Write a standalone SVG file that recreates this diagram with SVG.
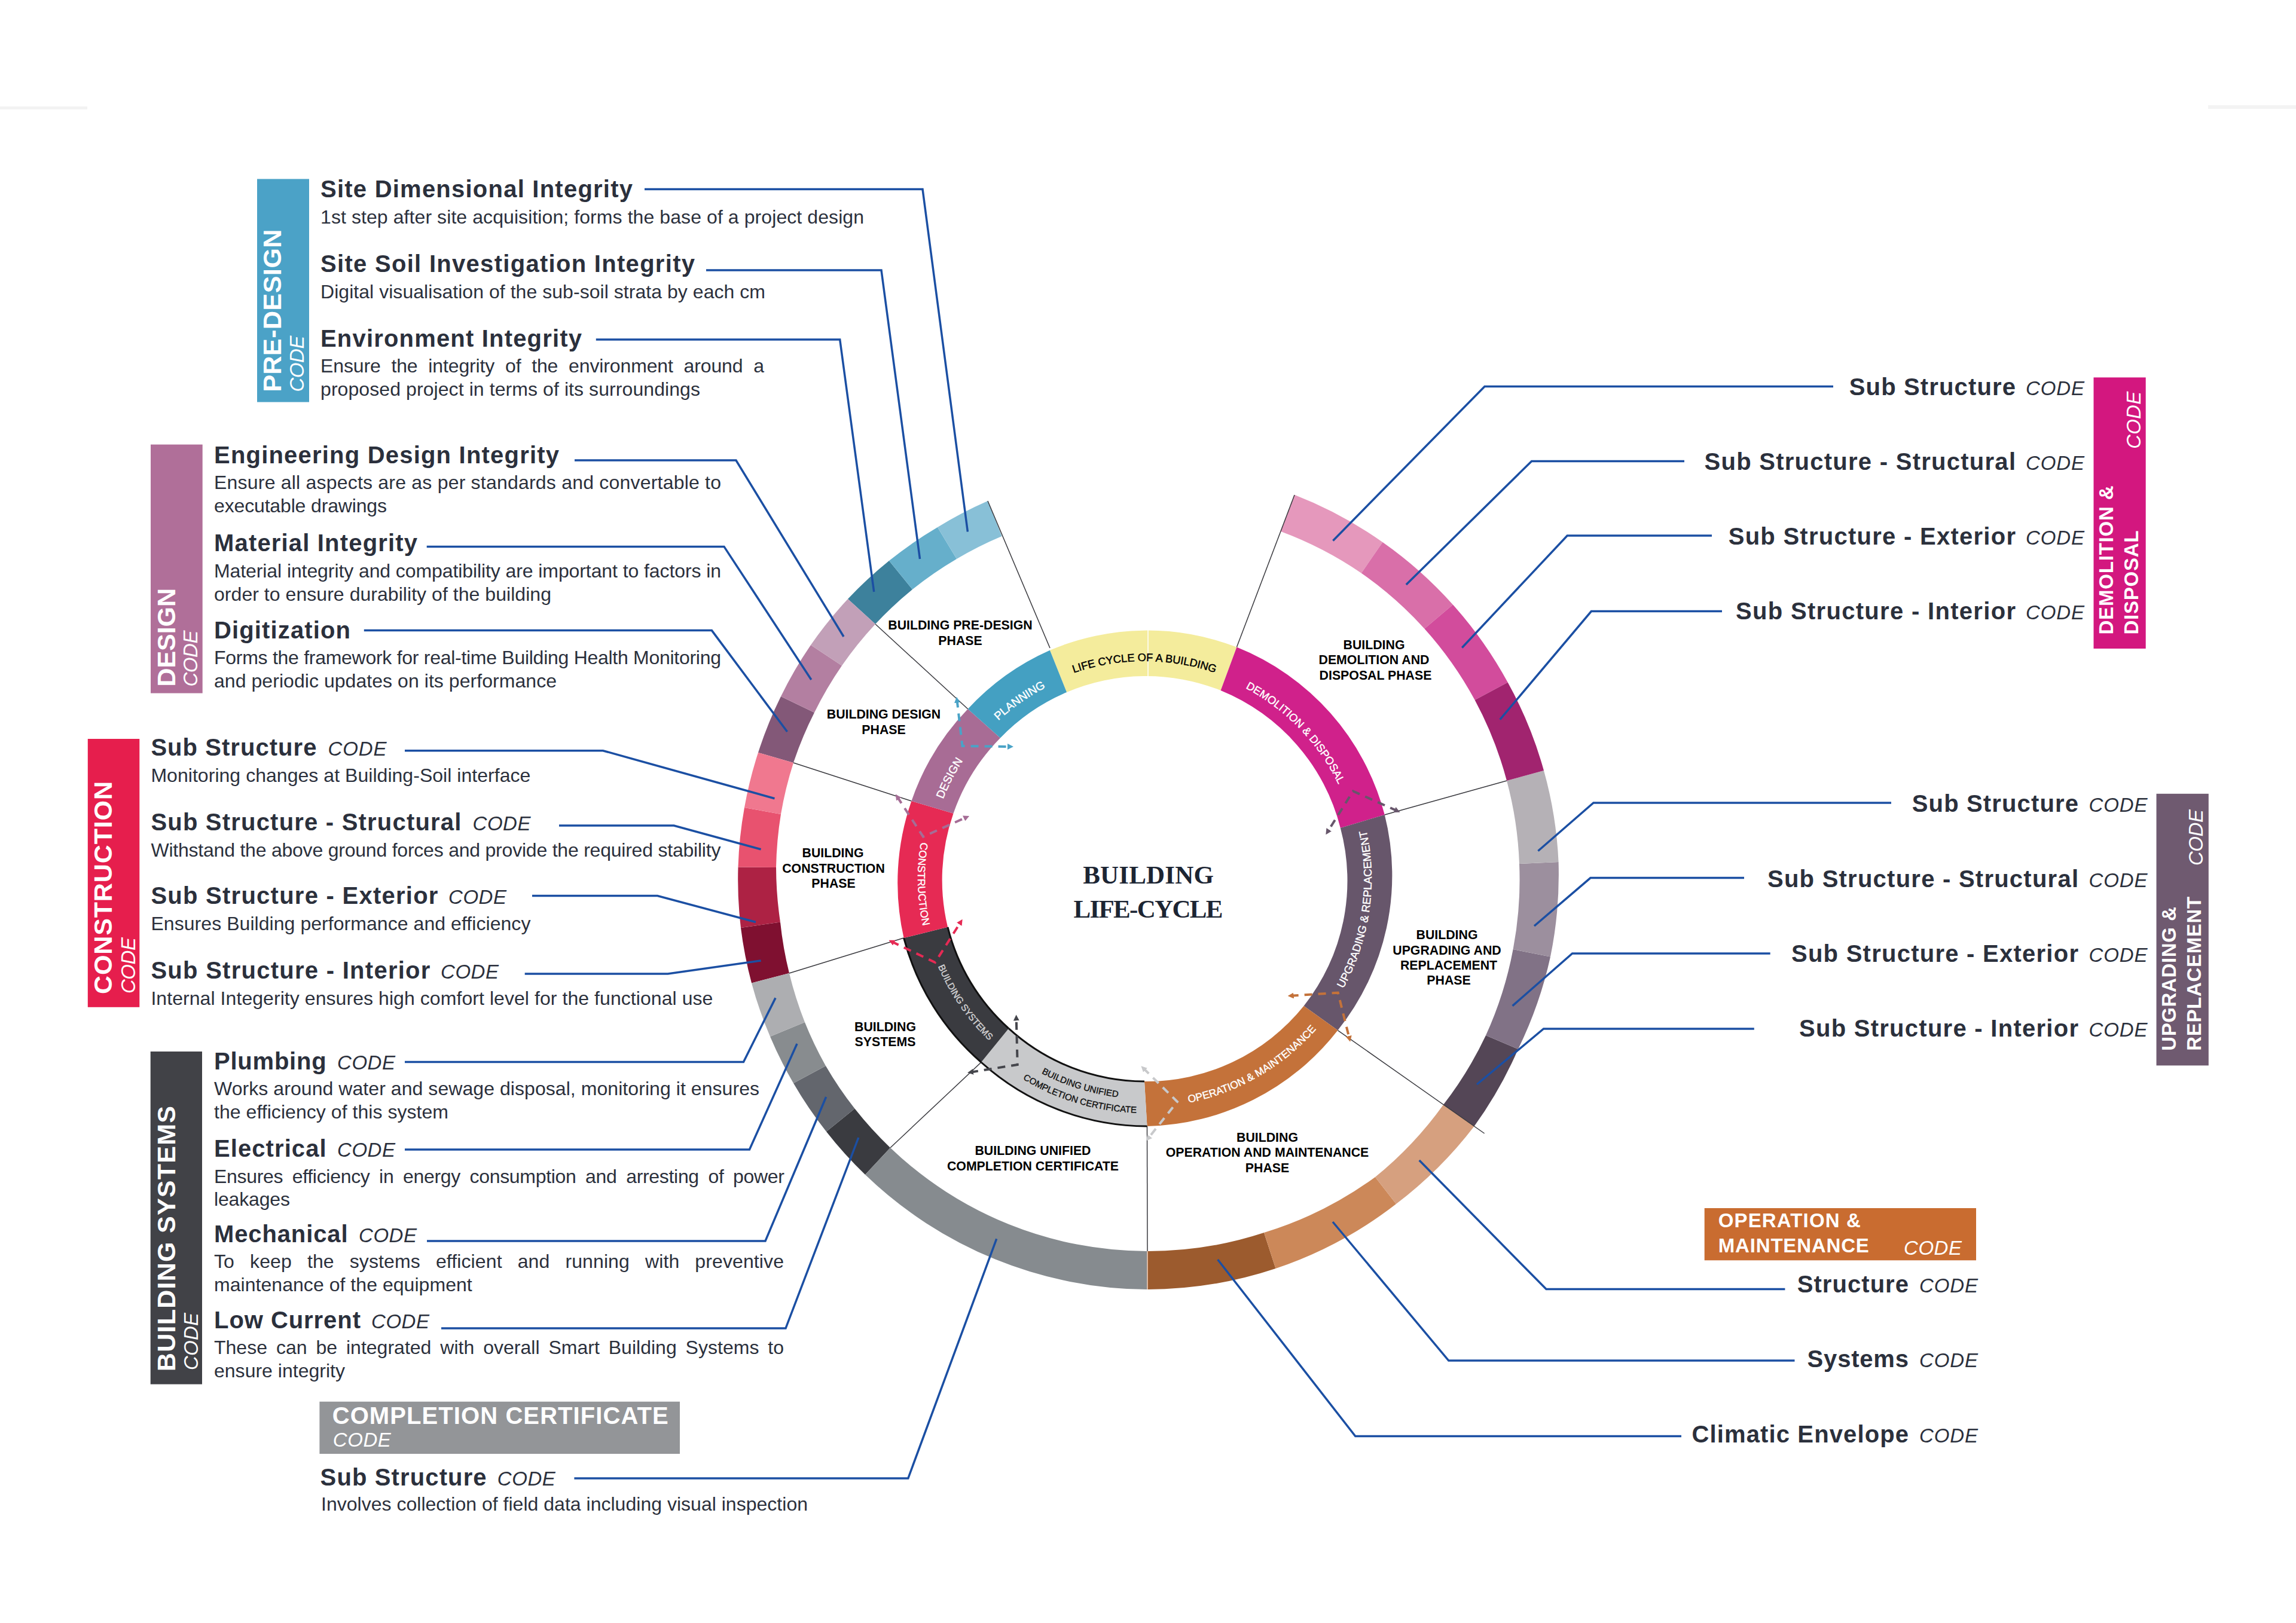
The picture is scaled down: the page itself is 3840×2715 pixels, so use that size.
<svg xmlns="http://www.w3.org/2000/svg" xmlns:xlink="http://www.w3.org/1999/xlink" width="3840" height="2715" viewBox="0 0 3840 2715">
<style>
text{font-family:"Liberation Sans",Arial,sans-serif}
.t{font-size:40px;font-weight:700;fill:#2b303c}
.c{font-size:33px;font-style:italic;fill:#2b303c}
.d{font-size:32px;fill:#2b303c}
.lb{font-size:43px;font-weight:700;fill:#fff}
.ls{font-size:33px;font-weight:700;fill:#fff}
.lc{font-size:33px;font-style:italic;fill:#fff}
.ph{font-size:21.3px;font-weight:700;fill:#000;text-anchor:middle}
.rt{font-size:19px;fill:#fff;stroke:#fff;stroke-width:.4;text-anchor:middle}
.blue{fill:none;stroke:#1b4fa3;stroke-width:3.5}
.sep{fill:none;stroke:#3a3a3f;stroke-width:1.5}
.edge{fill:none;stroke:#111;stroke-width:3}
.dash{fill:none;stroke-width:4;stroke-dasharray:13 10}
.title{font-family:"Liberation Serif","Times New Roman",serif;font-size:43px;font-weight:700;fill:#1c2533;text-anchor:middle}
</style>
<defs>
<marker id="mBlue" viewBox="0 0 10 10" refX="5" refY="5" markerWidth="10" markerHeight="10" markerUnits="userSpaceOnUse" orient="auto-start-reverse"><path d="M0 0L10 5L0 10Z" fill="#4aa3c7"/></marker>
<marker id="mPurple" viewBox="0 0 10 10" refX="5" refY="5" markerWidth="10" markerHeight="10" markerUnits="userSpaceOnUse" orient="auto-start-reverse"><path d="M0 0L10 5L0 10Z" fill="#a56d96"/></marker>
<marker id="mRed" viewBox="0 0 10 10" refX="5" refY="5" markerWidth="10" markerHeight="10" markerUnits="userSpaceOnUse" orient="auto-start-reverse"><path d="M0 0L10 5L0 10Z" fill="#e62a54"/></marker>
<marker id="mDark" viewBox="0 0 10 10" refX="5" refY="5" markerWidth="10" markerHeight="10" markerUnits="userSpaceOnUse" orient="auto-start-reverse"><path d="M0 0L10 5L0 10Z" fill="#45464c"/></marker>
<marker id="mLight" viewBox="0 0 10 10" refX="5" refY="5" markerWidth="10" markerHeight="10" markerUnits="userSpaceOnUse" orient="auto-start-reverse"><path d="M0 0L10 5L0 10Z" fill="#c8c9cb"/></marker>
<marker id="mOrange" viewBox="0 0 10 10" refX="5" refY="5" markerWidth="10" markerHeight="10" markerUnits="userSpaceOnUse" orient="auto-start-reverse"><path d="M0 0L10 5L0 10Z" fill="#c4723a"/></marker>
<marker id="mGray" viewBox="0 0 10 10" refX="5" refY="5" markerWidth="10" markerHeight="10" markerUnits="userSpaceOnUse" orient="auto-start-reverse"><path d="M0 0L10 5L0 10Z" fill="#67566b"/></marker>
<path id="pYellow" d="M1656.6 1212.6A364 364 0 0 1 2171.4 1212.6"/>
<path id="pPlan" d="M1559.5 1407.5A360 360 0 0 1 1976.5 1115.5"/>
<path id="pDes" d="M1569.1 1580A362 362 0 0 1 1804 1125.1"/>
<path id="pCon" d="M1638.7 1210.7A376 376 0 0 0 1651.7 1742.3"/>
<path id="pSys" d="M1545.1 1402.3A375 375 0 0 0 1846.3 1838.9"/>
<path id="pCom1" d="M1587.9 1640.5A368 368 0 0 0 2084.5 1796.1"/>
<path id="pCom2" d="M1569.2 1656.4A392 392 0 0 0 2100.4 1814.8"/>
<path id="pOp" d="M1815.1 1839A382 382 0 0 0 2283 1568.9"/>
<path id="pUpg" d="M2141.1 1774.7A380 380 0 0 0 2218.7 1242.9"/>
<path id="pDem" d="M1920.3 1109.1A361 361 0 0 1 2274.9 1476.3"/>
</defs>
<rect width="3840" height="2715" fill="#fff"/>
<g id="page-marks" fill="#f3f3f3"><rect x="0" y="178" width="146" height="5"/><rect x="3693" y="176" width="147" height="6"/></g>

<g id="outer-ring">
<g id="outer-predesign">
<path fill="#3d819c" d="M1418 1002A685 685 0 0 1 1487 938L1526 986A622 622 0 0 0 1464 1044Z"/>
<path fill="#66afcb" d="M1487 938A685 685 0 0 1 1568 882L1600 935A622 622 0 0 0 1526 986Z"/>
<path fill="#88c0d7" d="M1568 882A685 685 0 0 1 1652 838L1675.5 897A622 622 0 0 0 1600 935Z"/>
</g>
<g id="outer-design">
<path fill="#835878" d="M1268 1259A685 685 0 0 1 1306 1165L1362 1192A622 622 0 0 0 1327 1276Z"/>
<path fill="#b37fa1" d="M1306 1165A685 685 0 0 1 1356 1079L1408 1113.5A622 622 0 0 0 1362 1192Z"/>
<path fill="#c2a0b8" d="M1356 1079A685 685 0 0 1 1418 1002L1464 1044A622 622 0 0 0 1408 1113.5Z"/>
</g>
<g id="outer-construction">
<path fill="#7f1030" d="M1257 1644.4A685 685 0 0 1 1239 1552L1305 1542.5A622 622 0 0 0 1320 1628Z"/>
<path fill="#ad2244" d="M1239 1552A685 685 0 0 1 1234.5 1450.5L1298 1451A622 622 0 0 0 1305 1542.5Z"/>
<path fill="#e8526f" d="M1234.5 1450.5A685 685 0 0 1 1245 1351L1306 1362A622 622 0 0 0 1298 1451Z"/>
<path fill="#f0788f" d="M1245 1351A685 685 0 0 1 1268 1259L1327 1276A622 622 0 0 0 1306 1362Z"/>
</g>
<g id="outer-systems">
<path fill="#3a3b40" d="M1447 1965A685 685 0 0 1 1382 1893L1429.5 1854.6A622 622 0 0 0 1489 1920Z"/>
<path fill="#63666d" d="M1382 1893A685 685 0 0 1 1327 1812L1381 1783A622 622 0 0 0 1429.5 1854.6Z"/>
<path fill="#888c8f" d="M1327 1812A685 685 0 0 1 1288 1734L1346 1710A622 622 0 0 0 1381 1783Z"/>
<path fill="#adaeb1" d="M1288 1734A685 685 0 0 1 1257 1644.4L1320 1628A622 622 0 0 0 1346 1710Z"/>
</g>
<g id="outer-completion">
<path fill="#868b8f" d="M1919 2157A685 685 0 0 1 1447 1965L1489 1920A622 622 0 0 0 1919 2093Z"/>
</g>
<g id="outer-operation">
<path fill="#9c5b2e" d="M2133.5 2122A685 685 0 0 1 1919 2157L1919 2093A622 622 0 0 0 2114 2062Z"/>
<path fill="#cc8859" d="M2335 2014A685 685 0 0 1 2133.5 2122L2114 2062A622 622 0 0 0 2300 1969Z"/>
<path fill="#d6a07f" d="M2465.6 1884A685 685 0 0 1 2335 2014L2300 1969A622 622 0 0 0 2414 1848Z"/>
</g>
<g id="outer-upgrading">
<path fill="#544656" d="M2539 1755A685 685 0 0 1 2465.6 1884L2414 1848A622 622 0 0 0 2485 1732Z"/>
<path fill="#817286" d="M2593 1600.5A685 685 0 0 1 2539 1755L2485 1732A622 622 0 0 0 2530.6 1588Z"/>
<path fill="#9c8f9e" d="M2606.6 1442A685 685 0 0 1 2593 1600.5L2530.6 1588A622 622 0 0 0 2541 1445Z"/>
<path fill="#b5b1b6" d="M2582 1289A685 685 0 0 1 2606.6 1442L2541 1445A622 622 0 0 0 2520 1306Z"/>
</g>
<g id="outer-demolition">
<path fill="#e598bc" d="M2165 827.8A685 685 0 0 1 2312.4 907L2276.8 958.7A622 622 0 0 0 2142 889Z"/>
<path fill="#d96fa9" d="M2312.4 907A685 685 0 0 1 2429.9 1011.5L2382.4 1051.7A622 622 0 0 0 2276.8 958.7Z"/>
<path fill="#d24c9c" d="M2429.9 1011.5A685 685 0 0 1 2521.7 1141.6L2466.6 1171A622 622 0 0 0 2382.4 1051.7Z"/>
<path fill="#a1246f" d="M2521.7 1141.6A685 685 0 0 1 2582 1289L2520 1306A622 622 0 0 0 2466.6 1171Z"/>
</g>
</g>

<g id="separators">
<path class="sep" d="M1756 1084L1652 838"/>
<path class="sep" d="M2068.4 1082.6L2165 828"/>
<path class="sep" d="M1618.7 1186L1464 1044"/>
<path class="sep" d="M1524.4 1340L1327 1276"/>
<path class="sep" d="M1511.6 1569L1320 1628"/>
<path class="sep" d="M1641 1777L1489 1920"/>
<path class="sep" d="M1918.5 1884L1919 2093"/>
<path d="M1919 2093V2157" fill="none" stroke="#f2d0bb" stroke-width="1.5"/>
<path class="sep" d="M2237.4 1723.6L2482.6 1896"/>
<path class="sep" d="M2315.8 1363L2520 1306"/>
</g>

<g id="segment-yellow"><path fill="#f4ec9c" d="M1755.9 1087.8A415 415 0 0 1 2068.4 1082.6L2041.6 1155A338 338 0 0 0 1784 1158Z"/><path d="M1920 1054V1133" stroke="#fff" stroke-width="1.5"/><text class="rt" style="font-size:18.2px;fill:#000;stroke:#000;stroke-width:.5"><textPath href="#pYellow" startOffset="50%">LIFE CYCLE OF A BUILDING</textPath></text></g>
<g id="segment-demolition"><path fill="#d0218b" d="M2068.4 1082.6A415 415 0 0 1 2315.8 1363L2241.8 1385A338 338 0 0 0 2041.6 1155Z"/><text class="rt" style="font-size:18.3px"><textPath href="#pDem" startOffset="50%">DEMOLITION &amp; DISPOSAL</textPath></text></g>
<g id="segment-upgrading"><path fill="#67566b" d="M2315.8 1363A415 415 0 0 1 2237.4 1723.6L2180.6 1682.8A338 338 0 0 0 2241.8 1385Z"/><text class="rt" style="font-size:18.5px"><textPath href="#pUpg" startOffset="50%">UPGRADING &amp; REPLACEMENT</textPath></text></g>
<g id="segment-operation"><path fill="#c4723a" d="M2237.4 1723.6A415 415 0 0 1 1918.5 1884L1914 1809A338 338 0 0 0 2180.6 1682.8Z"/><text class="rt" style="font-size:17.5px"><textPath href="#pOp" startOffset="50%">OPERATION &amp; MAINTENANCE</textPath></text></g>
<g id="segment-completion"><path fill="#c8c9cb" d="M1918.5 1884A415 415 0 0 1 1641 1777L1687 1720.4A338 338 0 0 0 1914 1809Z"/><path class="edge" d="M1918.5 1884A415 415 0 0 1 1641 1777"/><path class="edge" d="M1914 1809A338 338 0 0 1 1687 1720.4"/><text class="rt" style="font-size:15px;fill:#111;stroke:#111"><textPath href="#pCom1" startOffset="50%">BUILDING UNIFIED</textPath></text><text class="rt" style="font-size:15px;fill:#111;stroke:#111"><textPath href="#pCom2" startOffset="50%">COMPLETION CERTIFICATE</textPath></text></g>
<g id="segment-systems"><path fill="#3a3b40" d="M1641 1777A415 415 0 0 1 1511.6 1569L1585 1550.8A338 338 0 0 0 1687 1720.4Z"/><path class="edge" d="M1641 1777A415 415 0 0 1 1511.6 1569"/><path class="edge" d="M1687 1720.4A338 338 0 0 1 1585 1550.8"/><text class="rt" style="font-size:15.5px;fill:#d0d0d2;stroke:#d0d0d2"><textPath href="#pSys" startOffset="50%">BUILDING SYSTEMS</textPath></text></g>
<g id="segment-construction"><path fill="#e62a54" d="M1511.6 1569A415 415 0 0 1 1524.4 1340L1594.5 1360.7A338 338 0 0 0 1585 1550.8Z"/><text class="rt" style="font-size:17.5px"><textPath href="#pCon" startOffset="50%">CONSTRUCTION</textPath></text></g>
<g id="segment-design"><path fill="#a86c95" d="M1524.4 1340A415 415 0 0 1 1618.7 1186L1673 1234.4A338 338 0 0 0 1594.5 1360.7Z"/><text class="rt"><textPath href="#pDes" startOffset="50%">DESIGN</textPath></text></g>
<g id="segment-planning"><path fill="#44a0c2" d="M1618.7 1186A415 415 0 0 1 1755.9 1087.8L1784 1158A338 338 0 0 0 1673 1234.4Z"/><text class="rt"><textPath href="#pPlan" startOffset="50%">PLANNING</textPath></text></g>

<g id="transitions">
<path class="dash" stroke="#4aa3c7" marker-start="url(#mBlue)" marker-end="url(#mBlue)" d="M1600.5 1170.6L1609.5 1248L1690 1249"/>
<path class="dash" stroke="#a56d96" marker-start="url(#mPurple)" marker-end="url(#mPurple)" d="M1500.5 1332.7L1544 1399.6L1616.6 1367"/>
<path class="dash" stroke="#e62a54" marker-start="url(#mRed)" marker-end="url(#mRed)" d="M1491 1575L1564 1610L1607 1542"/>
<path class="dash" stroke="#45464c" marker-start="url(#mDark)" marker-end="url(#mDark)" d="M1623 1793.7L1701.7 1781L1699.7 1702.5"/>
<path class="dash" stroke="#c8c9cb" marker-start="url(#mLight)" marker-end="url(#mLight)" d="M1912 1786.7L1969 1843L1920 1904.7"/>
<path class="dash" stroke="#c4723a" marker-start="url(#mOrange)" marker-end="url(#mOrange)" d="M2158.7 1665.8L2237.8 1660.7L2257 1738"/>
<path class="dash" stroke="#67566b" marker-start="url(#mGray)" marker-end="url(#mGray)" d="M2337 1356.6L2263 1323.5L2220 1392"/>
</g>

<g id="connectors">
<path class="blue" d="M1078 316.4H1543L1618.4 889.4"/>
<path class="blue" d="M1181 452H1474L1538.5 935"/>
<path class="blue" d="M996.8 568H1404.7L1461.7 990"/>
<path class="blue" d="M961 770H1231L1411 1065"/>
<path class="blue" d="M713.7 914.4H1211L1356.8 1137"/>
<path class="blue" d="M608.8 1054.6H1190.4L1316.6 1224"/>
<path class="blue" d="M677 1255.7H1008.5L1295.5 1335.7"/>
<path class="blue" d="M935 1381H1127L1272.6 1420.8"/>
<path class="blue" d="M890 1498.5H1099.6L1264 1542.5"/>
<path class="blue" d="M877.7 1629H1117L1272.6 1607"/>
<path class="blue" d="M677 1776.5H1243.5L1297 1669.4"/>
<path class="blue" d="M677 1923H1253.5L1333 1746"/>
<path class="blue" d="M714 2076H1280L1381.6 1835"/>
<path class="blue" d="M738 2222H1314L1435.8 1903"/>
<path class="blue" d="M960.4 2473H1518.8L1666.7 2072.4"/>
<path class="blue" d="M2812 2402.5H2266.8L2036.6 2107"/>
<path class="blue" d="M3001.5 2276H2422.8L2229 2044"/>
<path class="blue" d="M2985.4 2156.6H2586L2373.7 1941"/>
<path class="blue" d="M3066 646.5H2483L2229.4 904.4"/>
<path class="blue" d="M2817 771.4H2561.6L2351.8 977.9"/>
<path class="blue" d="M2863 896H2621.2L2445.2 1083.5"/>
<path class="blue" d="M2880 1022.6H2661.4L2508.7 1203.6"/>
<path class="blue" d="M3163 1343H2665L2572.4 1423.5"/>
<path class="blue" d="M2917 1468.6H2660L2566 1549"/>
<path class="blue" d="M2960.7 1595H2629.6L2529.6 1682.6"/>
<path class="blue" d="M2933.8 1721H2581.6L2470 1814"/>
</g>

<g id="centre-title"><text class="title" x="1920.5" y="1477.5" textLength="218.7">BUILDING</text><text class="title" x="1920.5" y="1534.5" textLength="250">LIFE-CYCLE</text></g>

<g id="phase-labels">
<g id="phase-predesign"><text class="ph" x="1606" y="1053">BUILDING PRE-DESIGN</text><text class="ph" x="1606" y="1079">PHASE</text></g>
<g id="phase-design"><text class="ph" x="1478" y="1202">BUILDING DESIGN</text><text class="ph" x="1478" y="1228">PHASE</text></g>
<g id="phase-construction"><text class="ph" x="1393" y="1434">BUILDING</text><text class="ph" x="1394" y="1459.5">CONSTRUCTION</text><text class="ph" x="1394" y="1485">PHASE</text></g>
<g id="phase-systems"><text class="ph" x="1480.5" y="1724.5">BUILDING</text><text class="ph" x="1480.5" y="1750">SYSTEMS</text></g>
<g id="phase-completion"><text class="ph" x="1727.5" y="1932">BUILDING UNIFIED</text><text class="ph" x="1727.5" y="1957.7">COMPLETION CERTIFICATE</text></g>
<g id="phase-operation"><text class="ph" x="2119.5" y="1910">BUILDING</text><text class="ph" x="2119.5" y="1935">OPERATION AND MAINTENANCE</text><text class="ph" x="2119.5" y="1960.7">PHASE</text></g>
<g id="phase-upgrading"><text class="ph" x="2420" y="1571.4">BUILDING</text><text class="ph" x="2420" y="1597">UPGRADING AND</text><text class="ph" x="2423" y="1622.4">REPLACEMENT</text><text class="ph" x="2423" y="1647.4">PHASE</text></g>
<g id="phase-demolition"><text class="ph" x="2298" y="1085.8">BUILDING</text><text class="ph" x="2298" y="1111">DEMOLITION AND</text><text class="ph" x="2300.5" y="1136.5">DISPOSAL PHASE</text></g>
</g>

<g id="legend-predesign"><rect x="430" y="299.4" width="87" height="373.2" fill="#4ba2c7"/><text class="lb" transform="translate(470 655.6) rotate(-90)" textLength="272">PRE-DESIGN</text><text class="lc" transform="translate(507.8 655.6) rotate(-90)" textLength="94">CODE</text></g>
<g id="item-site-dimensional"><text class="t" x="536" y="330" textLength="522">Site Dimensional Integrity</text><text class="d" x="536" y="374" textLength="909">1st step after site acquisition; forms the base of a project design</text></g>
<g id="item-site-soil"><text class="t" x="536" y="455" textLength="626">Site Soil Investigation Integrity</text><text class="d" x="536" y="499" textLength="744">Digital visualisation of the sub-soil strata by each cm</text></g>
<g id="item-environment"><text class="t" x="536" y="580" textLength="437">Environment Integrity</text><text class="d" x="536" y="623" textLength="742" style="word-spacing:9px">Ensure the integrity of the environment around a</text><text class="d" x="536" y="661.5" textLength="635">proposed project in terms of its surroundings</text></g>

<g id="legend-design"><rect x="252" y="743.6" width="86.7" height="416" fill="#b06f99"/><text class="lb" transform="translate(292.8 1148.5) rotate(-90)" textLength="164.5">DESIGN</text><text class="lc" transform="translate(330 1148.5) rotate(-90)" textLength="94">CODE</text></g>
<g id="item-engineering"><text class="t" x="358" y="774.7" textLength="577">Engineering Design Integrity</text><text class="d" x="358" y="818" textLength="848">Ensure all aspects are as per standards and convertable to</text><text class="d" x="358" y="857" textLength="289">executable drawings</text></g>
<g id="item-material"><text class="t" x="358" y="922" textLength="340">Material Integrity</text><text class="d" x="358" y="965.5" textLength="848">Material integrity and compatibility are important to factors in</text><text class="d" x="358" y="1005" textLength="564">order to ensure durability of the building</text></g>
<g id="item-digitization"><text class="t" x="358" y="1067.6" textLength="228">Digitization</text><text class="d" x="358" y="1111" textLength="848">Forms the framework for real-time Building Health Monitoring</text><text class="d" x="358" y="1150" textLength="573">and periodic updates on its performance</text></g>

<g id="legend-construction"><rect x="146.8" y="1236" width="86.5" height="448.8" fill="#e61e4d"/><text class="lb" transform="translate(187 1663) rotate(-90)" textLength="356">CONSTRUCTION</text><text class="lc" transform="translate(225.7 1662) rotate(-90)" textLength="94">CODE</text></g>
<g id="item-con-sub"><text class="t" x="252.4" y="1263.8" textLength="277">Sub Structure</text><text class="c" x="548.6" y="1263.8" textLength="98">CODE</text><text class="d" x="252.4" y="1307.8" textLength="635">Monitoring changes at Building-Soil interface</text></g>
<g id="item-con-structural"><text class="t" x="252.4" y="1389" textLength="519">Sub Structure - Structural</text><text class="c" x="790.5" y="1389" textLength="97">CODE</text><text class="d" x="252.4" y="1433" textLength="953">Withstand the above ground forces and provide the required stability</text></g>
<g id="item-con-exterior"><text class="t" x="252.4" y="1511.7" textLength="480">Sub Structure - Exterior</text><text class="c" x="750" y="1511.7" textLength="97">CODE</text><text class="d" x="252.4" y="1555.7" textLength="635">Ensures Building performance and efficiency</text></g>
<g id="item-con-interior"><text class="t" x="252.4" y="1637" textLength="467">Sub Structure - Interior</text><text class="c" x="737" y="1637" textLength="97">CODE</text><text class="d" x="252.4" y="1681" textLength="940">Internal Integerity ensures high comfort level for the functional use</text></g>

<g id="legend-systems"><rect x="251.7" y="1759" width="86.3" height="556.6" fill="#414247"/><text class="lb" transform="translate(293 2294) rotate(-90)" textLength="444">BUILDING SYSTEMS</text><text class="lc" transform="translate(330.5 2292) rotate(-90)" textLength="96">CODE</text></g>
<g id="item-plumbing"><text class="t" x="358" y="1789" textLength="187.6">Plumbing</text><text class="c" x="564" y="1789" textLength="97">CODE</text><text class="d" x="358" y="1832" textLength="912">Works around water and sewage disposal, monitoring it ensures</text><text class="d" x="358" y="1871" textLength="392">the efficiency of this system</text></g>
<g id="item-electrical"><text class="t" x="358" y="1935" textLength="187.6">Electrical</text><text class="c" x="564" y="1935" textLength="97">CODE</text><text class="d" x="358" y="1978.5" textLength="954" style="word-spacing:7px">Ensures efficiency in energy consumption and arresting of power</text><text class="d" x="358" y="2017" textLength="127">leakages</text></g>
<g id="item-mechanical"><text class="t" x="358" y="2077.5" textLength="223.5">Mechanical</text><text class="c" x="600" y="2077.5" textLength="97">CODE</text><text class="d" x="358" y="2121" textLength="953" style="word-spacing:17px">To keep the systems efficient and running with preventive</text><text class="d" x="358" y="2160" textLength="431.7">maintenance of the equipment</text></g>
<g id="item-low-current"><text class="t" x="358" y="2222" textLength="245">Low Current</text><text class="c" x="621" y="2222" textLength="97">CODE</text><text class="d" x="358" y="2265" textLength="953" style="word-spacing:6px">These can be integrated with overall Smart Building Systems to</text><text class="d" x="358" y="2304" textLength="219">ensure integrity</text></g>

<g id="legend-completion"><rect x="534.4" y="2344.7" width="602.6" height="87.3" fill="#939598"/><text class="t" style="fill:#fff" x="555.7" y="2382" textLength="562">COMPLETION CERTIFICATE</text><text class="lc" x="556.8" y="2420" textLength="97">CODE</text></g>
<g id="item-com-sub"><text class="t" x="535.6" y="2484.7" textLength="278">Sub Structure</text><text class="c" x="831.8" y="2484.7" textLength="97">CODE</text><text class="d" x="537" y="2527" textLength="814">Involves collection of field data including visual inspection</text></g>

<g id="legend-operation"><rect x="2850.7" y="2021" width="454.3" height="87.3" fill="#c96c30"/><text class="ls" x="2873.8" y="2053.3" textLength="238">OPERATION &amp;</text><text class="ls" x="2873.8" y="2095" textLength="252">MAINTENANCE</text><text class="lc" x="3184" y="2098.8" textLength="97">CODE</text></g>
<g id="item-op-structure"><text class="t" x="3005.7" y="2162.4" textLength="186.3">Structure</text><text class="c" x="3210" y="2162.4" textLength="98">CODE</text></g>
<g id="item-op-systems"><text class="t" x="3022.6" y="2286.7" textLength="169.4">Systems</text><text class="c" x="3210" y="2286.7" textLength="98">CODE</text></g>
<g id="item-op-climatic"><text class="t" x="2829.6" y="2413" textLength="362.4">Climatic Envelope</text><text class="c" x="3210" y="2413" textLength="98">CODE</text></g>

<g id="legend-demolition"><rect x="3501.5" y="631.4" width="87.2" height="453.6" fill="#d3177f"/><text class="ls" transform="translate(3533.6 1061.5) rotate(-90)" textLength="249">DEMOLITION &amp;</text><text class="ls" transform="translate(3576 1061.5) rotate(-90)" textLength="174">DISPOSAL</text><text class="lc" transform="translate(3579.6 750.8) rotate(-90)" textLength="96">CODE</text></g>
<g id="item-dem-sub"><text class="t" x="3092.8" y="661" textLength="278.2">Sub Structure</text><text class="c" x="3388" y="661" textLength="98">CODE</text></g>
<g id="item-dem-structural"><text class="t" x="2850.5" y="786" textLength="520.5">Sub Structure - Structural</text><text class="c" x="3388" y="786" textLength="98">CODE</text></g>
<g id="item-dem-exterior"><text class="t" x="2890.7" y="910.7" textLength="480.3">Sub Structure - Exterior</text><text class="c" x="3388" y="910.7" textLength="98">CODE</text></g>
<g id="item-dem-interior"><text class="t" x="2903" y="1036" textLength="468">Sub Structure - Interior</text><text class="c" x="3388" y="1036" textLength="98">CODE</text></g>

<g id="legend-upgrading"><rect x="3606.5" y="1327.8" width="87.3" height="454.6" fill="#6f5a70"/><text class="ls" transform="translate(3639 1757.8) rotate(-90)" textLength="241">UPGRADING &amp;</text><text class="ls" transform="translate(3681 1757.8) rotate(-90)" textLength="258">REPLACEMENT</text><text class="lc" transform="translate(3684 1448) rotate(-90)" textLength="94">CODE</text></g>
<g id="item-upg-sub"><text class="t" x="3197.8" y="1357.6" textLength="278.2">Sub Structure</text><text class="c" x="3493.5" y="1357.6" textLength="98">CODE</text></g>
<g id="item-upg-structural"><text class="t" x="2956" y="1484" textLength="520">Sub Structure - Structural</text><text class="c" x="3493.5" y="1484" textLength="98">CODE</text></g>
<g id="item-upg-exterior"><text class="t" x="2996" y="1608.7" textLength="480">Sub Structure - Exterior</text><text class="c" x="3493.5" y="1608.7" textLength="98">CODE</text></g>
<g id="item-upg-interior"><text class="t" x="3009" y="1734" textLength="467">Sub Structure - Interior</text><text class="c" x="3493.5" y="1734" textLength="98">CODE</text></g>
</svg>
